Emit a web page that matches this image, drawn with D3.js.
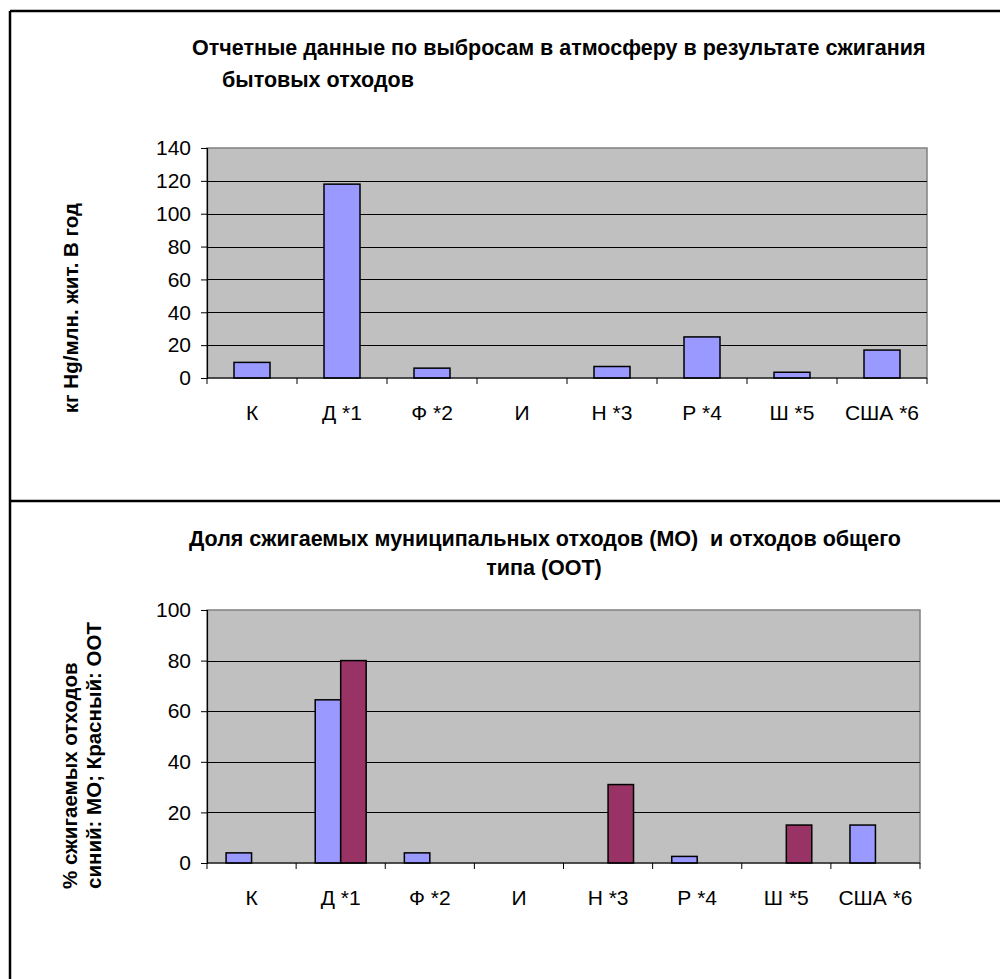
<!DOCTYPE html>
<html>
<head>
<meta charset="utf-8">
<script src="https://cdn.jsdelivr.net/npm/d3@7"></script>
<style>
  html, body { margin: 0; padding: 0; background: #fff; }
  svg { display: block; }
  text { font-family: "Liberation Sans", Arial, sans-serif; fill: #000; }
</style>
</head>
<body>
<svg id="chart" width="1000" height="979"></svg>
<script>
// Categories (countries) shared by both panels
const categories = ["К", "Д *1", "Ф *2", "И", "Н *3", "Р *4", "Ш *5", "США *6"];

// Panel 1: reported mercury emissions, kg Hg per million inhabitants per year
const emissions = [9.5, 118, 6, 0, 7, 25, 3.5, 17];
const emissionTicks = [0, 20, 40, 60, 80, 100, 120, 140];

// Panel 2: share of incinerated waste, %
const shareMunicipal = [4, 64.5, 4, 0, 0, 2.6, 0, 15];   // blue: МО
const shareGeneral   = [0, 80, 0, 0, 31, 0, 15, 0];      // red: ООТ
const shareTicks = [0, 20, 40, 60, 80, 100];

const TICK_FONT = 21;
const TITLE_FONT = 21.5;
const AXIS_TITLE_FONT = 20.5;

const svg = d3.select("#chart");

// Frame lines around the two panels
const frame = svg.append("g").attr("stroke", "#000").attr("stroke-width", 2.5).attr("fill", "none");
frame.append("line").attr("x1", 10).attr("x2", 1000).attr("y1", 11).attr("y2", 11);
frame.append("line").attr("x1", 10).attr("x2", 10).attr("y1", 11).attr("y2", 979);
frame.append("line").attr("x1", 10).attr("x2", 1000).attr("y1", 501).attr("y2", 501);

function panel(opts) {
  const { left, right, top, bottom, max, ticks, series, colors } = opts;
  const g = svg.append("g");

  const x = d3.scaleBand().domain(categories).range([left, right]).paddingInner(0).paddingOuter(0);
  const keys = series.map((_, i) => i);
  const xs = d3.scaleBand().domain(keys).range([0, x.bandwidth()]).paddingInner(0).paddingOuter(0.75);
  const y = d3.scaleLinear().domain([0, max]).range([bottom, top]);

  // plot background
  g.append("rect")
    .attr("x", left).attr("y", top)
    .attr("width", right - left).attr("height", bottom - top)
    .attr("fill", "#c0c0c0").attr("stroke", "#808080").attr("stroke-width", 1.5);

  // horizontal gridlines
  g.append("g").selectAll("line")
    .data(ticks.filter(t => t > 0 && t < max))
    .join("line")
    .attr("x1", left).attr("x2", right)
    .attr("y1", d => Math.round(y(d)) + 0.5).attr("y2", d => Math.round(y(d)) + 0.5)
    .attr("stroke", "#000").attr("stroke-width", 1);

  // bars
  series.forEach((vals, si) => {
    g.append("g").selectAll("rect")
      .data(categories.map((c, i) => ({ c, v: vals[i] })).filter(d => d.v > 0))
      .join("rect")
      .attr("x", d => x(d.c) + xs(si))
      .attr("y", d => y(d.v))
      .attr("width", xs.bandwidth())
      .attr("height", d => y(0) - y(d.v))
      .attr("fill", colors[si])
      .attr("stroke", "#000").attr("stroke-width", 1.5);
  });

  // y axis
  const yAxis = d3.axisLeft(y).tickValues(ticks).tickSize(6).tickPadding(10).tickFormat(d3.format("d"));
  const ya = g.append("g").attr("transform", `translate(${left},0)`).call(yAxis);
  ya.select(".domain").attr("stroke", "#000").attr("stroke-width", 1.2);
  ya.selectAll(".tick line").attr("stroke", "#000");
  ya.selectAll(".tick text").attr("font-size", TICK_FONT).attr("font-family", "Liberation Sans, Arial, sans-serif").attr("fill", "#000");

  // x axis with ticks at category boundaries
  const xa = g.append("g").attr("transform", `translate(0,${bottom})`);
  xa.append("line").attr("x1", left).attr("x2", right).attr("y1", 0).attr("y2", 0)
    .attr("stroke", "#000").attr("stroke-width", 1.2);
  const bounds = categories.map(c => x(c)).concat([right]);
  xa.selectAll("line.tk").data(bounds).join("line").attr("class", "tk")
    .attr("x1", d => d).attr("x2", d => d).attr("y1", 0).attr("y2", 6)
    .attr("stroke", "#000");
  xa.selectAll("text").data(categories).join("text")
    .attr("x", d => x(d) + x.bandwidth() / 2)
    .attr("y", 34)
    .attr("text-anchor", "middle")
    .attr("dominant-baseline", "central")
    .attr("font-size", TICK_FONT)
    .text(d => d);
  return g;
}

// Panel 1
panel({
  left: 207, right: 927, top: 148, bottom: 378, max: 140,
  ticks: emissionTicks, series: [emissions], colors: ["#9999ff"]
});
svg.append("text").attr("x", 192).attr("y", 55)
  .attr("font-size", TITLE_FONT).attr("font-weight", "bold")
  .text("Отчетные данные по выбросам в атмосферу в результате сжигания");
svg.append("text").attr("x", 222).attr("y", 87)
  .attr("font-size", TITLE_FONT).attr("font-weight", "bold")
  .text("бытовых отходов");
svg.append("text")
  .attr("transform", "translate(78,308) rotate(-90)")
  .attr("text-anchor", "middle")
  .attr("font-size", AXIS_TITLE_FONT).attr("font-weight", "bold")
  .text("кг Hg/млн. жит. В год");

// Panel 2
panel({
  left: 207, right: 920, top: 610, bottom: 863, max: 100,
  ticks: shareTicks, series: [shareMunicipal, shareGeneral], colors: ["#9999ff", "#993366"]
});
svg.append("text").attr("x", 545).attr("y", 546)
  .attr("text-anchor", "middle")
  .attr("xml:space", "preserve")
  .attr("font-size", TITLE_FONT).attr("font-weight", "bold")
  .text("Доля сжигаемых муниципальных отходов (МО)  и отходов общего");
svg.append("text").attr("x", 544).attr("y", 575)
  .attr("text-anchor", "middle")
  .attr("font-size", TITLE_FONT).attr("font-weight", "bold")
  .text("типа (ООТ)");
svg.append("text")
  .attr("transform", "translate(77,889) rotate(-90)")
  .attr("font-size", AXIS_TITLE_FONT).attr("font-weight", "bold")
  .text("% сжигаемых отходов");
svg.append("text")
  .attr("transform", "translate(101,889) rotate(-90)")
  .attr("font-size", AXIS_TITLE_FONT).attr("font-weight", "bold")
  .text("синий: МО; Красный: ООТ");
</script>
</body>
</html>
